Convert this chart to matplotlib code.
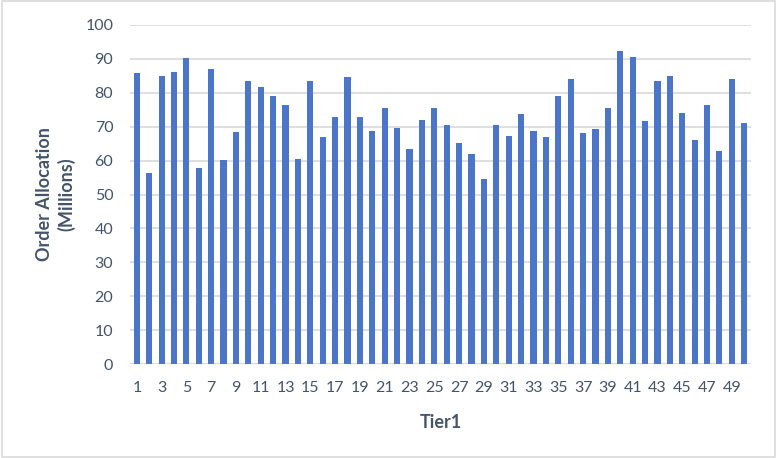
import matplotlib
matplotlib.use("Agg")
import matplotlib.pyplot as plt
from matplotlib.patches import Rectangle

tiers = list(range(1, 51))
values = [85.8, 56.4, 85.1, 86.1, 90.4, 57.7, 87.0, 60.1, 68.3, 83.6,
          81.7, 79.2, 76.3, 60.4, 83.4, 67.0, 73.0, 84.8, 73.0, 68.6,
          75.4, 69.6, 63.3, 72.0, 75.4, 70.4, 65.1, 61.9, 54.5, 70.4,
          67.4, 73.6, 68.6, 67.0, 79.2, 84.0, 68.0, 69.3, 75.4, 92.2,
          90.7, 71.6, 83.6, 85.1, 73.9, 66.0, 76.3, 62.7, 84.2, 71.2]
yticks = list(range(0, 101, 10))
xtick_labels = [str(t) for t in tiers[::2]]

plt.rcParams['font.family'] = ['Lato', 'DejaVu Sans']
text_color = '#44546A'

fig = plt.figure(figsize=(7.77, 4.58), dpi=100)
ax = fig.add_axes([130/777, 1 - 364/458, (751-130)/777, (364-25)/458])

ax.bar(tiers, values, width=0.5, color='#4A75C8', zorder=3)
ax.set_ylim(0, 100)
ax.set_xlim(0.45, 50.55)
ax.set_yticks(yticks)
ax.set_xticks(tiers[::2])
ax.set_xticklabels(xtick_labels)
ax.grid(axis='y', color='#D9D9D9', linewidth=1.2, zorder=0)
for s in ax.spines.values():
    s.set_visible(False)
ax.tick_params(axis='both', length=0, labelsize=11.5, colors=text_color)
ax.tick_params(axis='x', pad=12)
ax.tick_params(axis='y', pad=12)
ax.axhline(0, color='#D9D9D9', linewidth=1.2, zorder=2)

ax.set_xlabel('Tier1', fontsize=13, fontweight='bold', color=text_color, labelpad=14)
ax.set_ylabel('Order Allocation\n(Millions)', fontsize=13, fontweight='bold',
              color=text_color, labelpad=7, linespacing=1.3)

fig.patches.append(Rectangle((0.002, 0.003), 0.996, 0.994, transform=fig.transFigure,
                             fill=False, edgecolor='#D9D9D9', linewidth=1.2))

fig.savefig('out.png', dpi=100)
